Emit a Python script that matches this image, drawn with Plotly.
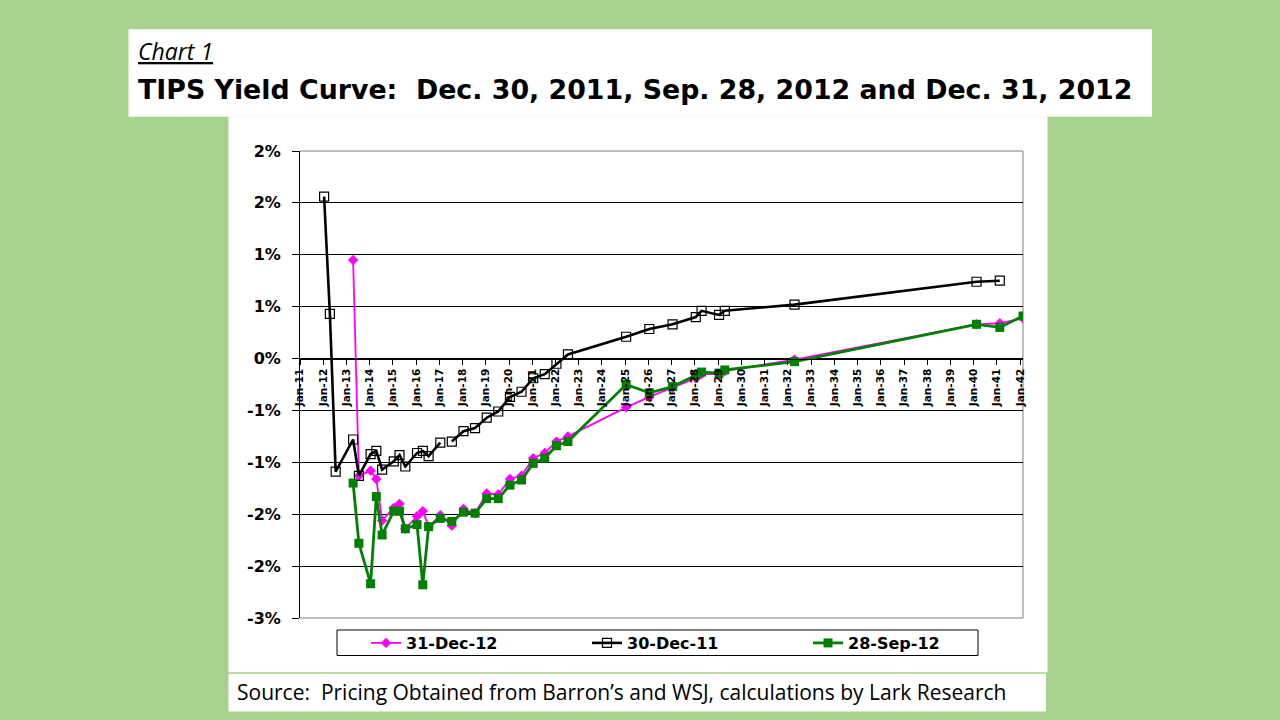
import plotly.graph_objects as go

# ---------------- data ----------------
dates_dec11 = ["2012-01-15", "2012-04-15", "2012-07-15", "2013-04-15", "2013-07-15",
               "2014-01-15", "2014-04-15", "2014-07-15", "2015-01-15", "2015-04-15",
               "2015-07-15", "2016-01-15", "2016-04-15", "2016-07-15", "2017-01-15",
               "2017-04-15", "2017-07-15", "2018-01-15", "2018-07-15", "2019-01-15",
               "2019-07-15", "2020-01-15", "2020-07-15", "2021-01-15", "2021-07-15",
               "2022-01-15", "2022-07-15", "2025-01-15", "2026-01-15", "2027-01-15",
               "2028-01-15", "2028-04-15", "2029-01-15", "2029-04-15", "2032-04-15",
               "2040-02-15", "2041-02-15"]
yield_dec11 = [1.56, 0.43, -1.09, -0.78, -1.13,
               -0.92, -0.89, -1.07, -0.99, -0.93,
               -1.04, -0.91, -0.89, -0.94, -0.81,
               None, -0.80, -0.70, -0.67, -0.57,
               -0.51, -0.37, -0.32, -0.19, -0.15,
               -0.05, 0.04, 0.21, 0.285, 0.33,
               0.40, 0.46, 0.42, 0.46, 0.52,
               0.74, 0.75]

dates_dec12 = ["2013-04-15", "2013-07-15", "2014-01-15", "2014-04-15", "2014-07-15",
               "2015-01-15", "2015-04-15", "2015-07-15", "2016-01-15", "2016-04-15",
               "2016-07-15", "2017-01-15", "2017-07-15", "2018-01-15", "2018-07-15",
               "2019-01-15", "2019-07-15", "2020-01-15", "2020-07-15", "2021-01-15",
               "2021-07-15", "2022-01-15", "2022-07-15", "2025-01-15", "2026-01-15",
               "2027-01-15", "2028-01-15", "2028-04-15", "2029-01-15", "2029-04-15",
               "2032-04-15", "2040-02-15", "2041-02-15", "2042-02-15"]
yield_dec12 = [0.95, -1.13, -1.08, -1.16, -1.56,
               -1.44, -1.40, -1.64, -1.52, -1.47,
               -1.62, -1.51, -1.61, -1.45, -1.49,
               -1.30, -1.31, -1.16, -1.13, -0.96,
               -0.91, -0.80, -0.75, -0.47, -0.37,
               -0.28, -0.19, -0.15, -0.15, -0.12,
               -0.01, 0.33, 0.34, 0.39]

dates_sep12 = ["2013-04-15", "2013-07-15", "2014-01-15", "2014-04-15", "2014-07-15",
               "2015-01-15", "2015-04-15", "2015-07-15", "2016-01-15", "2016-04-15",
               "2016-07-15", "2017-01-15", "2017-07-15", "2018-01-15", "2018-07-15",
               "2019-01-15", "2019-07-15", "2020-01-15", "2020-07-15", "2021-01-15",
               "2021-07-15", "2022-01-15", "2022-07-15", "2025-01-15", "2026-01-15",
               "2027-01-15", "2028-01-15", "2028-04-15", "2029-01-15", "2029-04-15",
               "2032-04-15", "2040-02-15", "2041-02-15", "2042-02-15"]
yield_sep12 = [-1.20, -1.78, -2.17, -1.33, -1.70,
               -1.47, -1.47, -1.64, -1.60, -2.18,
               -1.62, -1.54, -1.57, -1.48, -1.49,
               -1.35, -1.35, -1.22, -1.17, -1.01,
               -0.96, -0.84, -0.80, -0.25, -0.33,
               -0.27, -0.16, -0.13, -0.14, -0.11,
               -0.03, 0.33, 0.30, 0.41]

y_tick_vals = [-2.5, -2.0, -1.5, -1.0, -0.5, 0.0, 0.5, 1.0, 1.5, 2.0]
y_tick_text = ["-3%", "-2%", "-2%", "-1%", "-1%", "0%", "1%", "1%", "2%", "2%"]

series_names = ["31-Dec-12", "30-Dec-11", "28-Sep-12"]
title_small = "Chart 1"
title_main = "TIPS Yield Curve:  Dec. 30, 2011, Sep. 28, 2012 and Dec. 31, 2012"
source_text = "Source:  Pricing Obtained from Barron\u2019s and WSJ, calculations by Lark Research"

# ---------------- layout helpers ----------------
W, H = 1280, 720
L, R, T, B = 300, 257, 151, 102
PW = W - L - R
PH = H - T - B


def px(x):
    return (x - L) / PW


def py(y):
    return (H - B - y) / PH


GREEN_BG = "#a9d18e"
TXT_FONT = "Open Sans"
CHART_FONT = "DejaVu Sans"

fig = go.Figure()

fig.add_trace(go.Scatter(
    x=dates_dec12, y=yield_dec12, name=series_names[0], mode="lines+markers",
    line=dict(color="#ff00ff", width=1.8),
    marker=dict(symbol="diamond", size=8, color="#ff00ff"),
))
fig.add_trace(go.Scatter(
    x=dates_dec11, y=yield_dec11, name=series_names[1], mode="lines+markers",
    line=dict(color="#000000", width=2.6), connectgaps=False,
    marker=dict(symbol="square-open", size=9, color="#000000", line=dict(width=1.2)),
))
fig.add_trace(go.Scatter(
    x=dates_sep12, y=yield_sep12, name=series_names[2], mode="lines+markers",
    line=dict(color="#008000", width=2.8),
    marker=dict(symbol="square", size=9, color="#008000"),
))

shapes = [
    # title box
    dict(type="rect", xref="paper", yref="paper", x0=px(128.5), x1=px(1152),
         y0=py(116.7), y1=py(29.3), fillcolor="white", line=dict(width=0), layer="below"),
    # chart box
    dict(type="rect", xref="paper", yref="paper", x0=px(228.5), x1=px(1047.5),
         y0=py(672.3), y1=py(116.5), fillcolor="white", line=dict(width=0), layer="below"),
    # source box
    dict(type="rect", xref="paper", yref="paper", x0=px(228.5), x1=px(1046),
         y0=py(711.5), y1=py(673.7), fillcolor="white", line=dict(width=0), layer="below"),
    # legend box
    dict(type="rect", xref="paper", yref="paper", x0=px(337), x1=px(978),
         y0=py(655.5), y1=py(630), fillcolor="white", line=dict(width=1, color="black"),
         layer="below"),
    # plot border (gray): top, right, bottom
    dict(type="line", xref="paper", yref="paper", x0=0, x1=1, y0=1, y1=1,
         line=dict(color="#808080", width=1), layer="above"),
    dict(type="line", xref="paper", yref="paper", x0=1, x1=1, y0=0, y1=1,
         line=dict(color="#808080", width=1), layer="below"),
    dict(type="line", xref="paper", yref="paper", x0=0, x1=1, y0=0, y1=0,
         line=dict(color="#808080", width=1), layer="above"),
]

annotations = [
    dict(text="<i><u>" + title_small + "</u></i>", xref="paper", yref="paper",
         x=px(136), y=py(51), xanchor="left", yanchor="middle", showarrow=False,
         font=dict(family=TXT_FONT, size=23, color="black")),
    dict(text="<b>" + title_main + "</b>", xref="paper", yref="paper",
         x=px(136), y=py(89), xanchor="left", yanchor="middle", showarrow=False,
         font=dict(family=CHART_FONT, size=26.8, color="black")),
    dict(text=source_text, xref="paper", yref="paper",
         x=px(235), y=py(692), xanchor="left", yanchor="middle", showarrow=False,
         font=dict(family=TXT_FONT, size=21, color="black")),
]

fig.update_layout(
    width=W, height=H,
    margin=dict(l=L, r=R, t=T, b=B, pad=0),
    paper_bgcolor=GREEN_BG,
    plot_bgcolor="white",
    shapes=shapes,
    annotations=annotations,
    showlegend=True,
    legend=dict(orientation="h", x=px(366), y=py(643), xanchor="left", yanchor="middle",
                bgcolor="rgba(0,0,0,0)", borderwidth=0,
                entrywidth=176, entrywidthmode="pixels",
                font=dict(family=CHART_FONT, size=16, color="black", weight="bold")),
    xaxis=dict(
        type="date",
        range=["2011-01-01", "2042-02-15"],
        tick0="2011-01-01", dtick="M12", tickformat="%b-%y",
        tickangle=-90,
        anchor="free", position=2.5 / 4.5,
        showline=True, linecolor="black", linewidth=1,
        ticks="outside", ticklen=5, tickcolor="black", tickwidth=1,
        showgrid=False, zeroline=False,
        tickfont=dict(family=CHART_FONT, size=10.5, color="black", weight="bold"),
    ),
    yaxis=dict(
        range=[-2.5, 2.0],
        tickvals=y_tick_vals, ticktext=y_tick_text,
        showline=True, linecolor="black", linewidth=1,
        ticks="outside", ticklen=7, tickcolor="black", tickwidth=1,
        showgrid=True, gridcolor="black", gridwidth=1,
        zeroline=True, zerolinecolor="black", zerolinewidth=1,
        ticklabelstandoff=8,
        tickfont=dict(family=CHART_FONT, size=16, color="black", weight="bold"),
    ),
)

fig.write_html("out.html", config={"displayModeBar": False},
               post_script="document.body.style.margin='0';document.body.style.padding='0';")
